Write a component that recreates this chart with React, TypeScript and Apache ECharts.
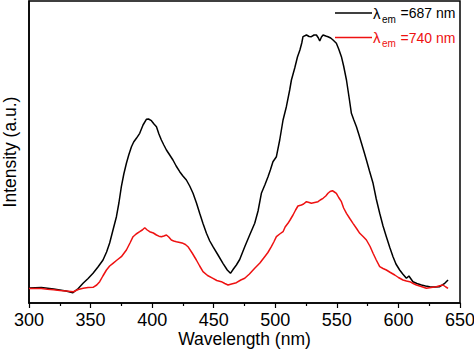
import React, { useEffect, useRef } from "react";
import * as echarts from "echarts";

// Emission-excitation spectra (wavelength in nm, intensity in a.u.)
const xTicks = [300, 350, 400, 450, 500, 550, 600, 650];

const em687: [number, number][] = [
  [300, 15], [305, 15.3], [310, 15.5], [315, 14.8], [320, 14], [325, 13], [330, 12], [335.7, 10.3],
  [340, 14.5], [343.9, 19.7], [348, 24.5], [352, 29.7], [356, 36], [360.1, 43], [363, 51], [365.5, 60],
  [368, 72], [371, 86.3], [373, 100], [375, 116.3], [377, 129], [379.1, 139.7], [381, 148], [383.2, 156.3],
  [385, 161], [387.2, 164.7], [389.9, 169.7], [392.6, 178], [395.3, 183.7], [397, 184], [399.4, 182.3],
  [401.5, 179], [403.5, 176.3], [405.5, 169], [407.5, 163], [409.5, 158], [411.6, 153], [414, 148.5],
  [416.9, 143], [419.5, 137], [422.4, 131.3], [425, 127], [427.8, 123], [430.5, 117], [433.2, 109.7],
  [436, 100], [438.6, 89.7], [441.3, 79.5], [444.1, 69.7], [446.8, 62], [449.4, 56.3], [453.5, 48],
  [457.5, 39.7], [461, 33], [463.6, 29.7], [466, 34], [468.4, 38], [471.1, 43.5], [475.2, 56.3],
  [479.2, 68], [483.3, 79.7], [486, 92], [488.7, 109.7], [491.5, 118], [494.1, 126.3], [496, 133],
  [498.1, 141.3], [500.9, 146.3], [503.6, 163], [506.3, 183], [509, 196.3], [511.7, 213], [513.1, 223],
  [515.8, 235], [518, 246], [520, 253], [521.5, 260], [522.5, 266.3], [525.3, 268], [527.5, 266.5],
  [529.3, 266.3], [531.5, 268], [533.4, 268], [535, 265], [536.1, 262], [537.5, 266], [538.8, 268],
  [541, 267], [542.8, 266.3], [545, 265], [546.9, 263], [549.6, 259.7], [551.5, 254], [553.7, 246.3],
  [555.5, 237], [557.8, 223], [560, 205], [561.8, 189.7], [563.8, 183], [565.9, 176.3], [568, 168],
  [570, 159.7], [572, 151.5], [574, 143], [576.5, 132], [579.4, 119.7], [582, 104], [584.8, 89.7],
  [587.5, 77], [590.2, 66.3], [593, 55.5], [595.6, 46.3], [598, 39], [601, 33], [603.5, 29],
  [606.5, 24.7], [608.5, 27], [611.8, 21.3], [615, 19.5], [618.7, 18], [622, 17], [625.4, 16.3],
  [629.5, 16], [633.5, 16.3], [636, 18.3], [637.6, 19.7], [640.3, 23],
];

const em740: [number, number][] = [
  [300, 14.5], [305, 14.5], [310, 14.5], [315, 13.7], [320, 13.3], [325, 12.5], [330, 12], [336, 11.3],
  [340, 13.5], [344, 14.7], [348, 15.5], [352, 15.7], [355, 18], [357.4, 21.3], [360, 27], [362.9, 33],
  [365.5, 37], [368.2, 39.7], [371.5, 43], [375, 46.3], [379.1, 53], [382, 60], [384.5, 66.3], [387, 69],
  [389.9, 71.3], [392, 73], [394, 75.3], [396, 73], [398, 71.3], [401, 70], [403.5, 68], [405.5, 66.8],
  [407.5, 66.3], [409.5, 67], [411.6, 68], [413.5, 66], [415.6, 63], [417.5, 62], [419.7, 61.3],
  [422.5, 60.5], [425.1, 59.7], [427, 58.5], [429.1, 56.3], [432.5, 50], [435.9, 43], [438.6, 37],
  [441.3, 31.3], [445, 27.5], [449.4, 24.7], [452.5, 22.5], [456.2, 21.3], [459, 19.5], [461.6, 18],
  [464.5, 19], [468.4, 20.3], [472, 23], [475.2, 24.7], [479, 29], [483.3, 34.7], [487.5, 40],
  [491.4, 46.3], [494, 50.5], [496.8, 56.3], [498.8, 61], [500.9, 66.3], [503.6, 69], [506.3, 71.3],
  [508, 76], [510.3, 79.7], [512, 83], [514.4, 88], [516.5, 93], [518.4, 97], [521.2, 98], [523, 99],
  [525.3, 101.3], [527.5, 100.5], [529.3, 99.7], [532, 100.5], [534.7, 101.3], [536.5, 103],
  [538.8, 104.7], [541, 107], [542.8, 109.7], [544.5, 111.5], [546.4, 112.3], [548, 111], [549.6, 109.7],
  [551.5, 105.5], [553.7, 101.3], [555.5, 95], [557.8, 89.7], [560.5, 84.5], [563.1, 79.7], [566, 74.5],
  [568.6, 69.7], [571.5, 66.3], [574, 63], [577, 56.5], [579.4, 49.7], [582, 43], [584.8, 36.3],
  [587.5, 34.5], [590.2, 33], [593.5, 30.5], [597, 28], [600, 25.5], [603.7, 23], [606.5, 22],
  [609.2, 21.3], [612, 19.5], [614.6, 18], [618.5, 16.5], [622.7, 14.7], [626.5, 15.5], [630.8, 16.3],
  [633.5, 17.3], [636.2, 18], [638.5, 16], [640.3, 14.7],
];

const seriesNames = ["λem=687 nm", "λem=740 nm"];
const seriesColors = ["#000000", "#ee1111"];

const FONT = "'Liberation Sans', Arial, sans-serif";

export default function App() {
  const ref = useRef<HTMLDivElement>(null);
  useEffect(() => {
    if (!ref.current) return;
    const chart = echarts.init(ref.current, null, { renderer: "svg" });
    const legendText = (y: number, value: string, color: string) => [
      { type: "line", shape: { x1: 335, y1: y, x2: 372, y2: y }, style: { stroke: color, lineWidth: 1.5 } },
      { type: "text", x: 373, y: y, style: { text: "λ", fill: color, font: `15px ${FONT}`, textVerticalAlign: "middle" } },
      { type: "text", x: 382, y: y + 6, style: { text: "em", fill: color, font: `10px ${FONT}`, textVerticalAlign: "middle" } },
      { type: "text", x: 400.5, y: y, style: { text: value, fill: color, font: `14px ${FONT}`, textVerticalAlign: "middle" } },
    ];
    chart.setOption({
      animation: false,
      textStyle: { fontFamily: FONT },
      grid: {
        left: 29, right: 14, top: 1, bottom: 48,
        outerBoundsMode: "none", containLabel: false,
        show: true, borderColor: "#000", borderWidth: 1.5,
      },
      xAxis: {
        type: "value", min: xTicks[0], max: xTicks[xTicks.length - 1], interval: 50,
        name: "Wavelength (nm)", nameLocation: "middle", nameGap: 26.5, nameMoveOverlap: false,
        nameTextStyle: { fontSize: 17.5, color: "#000", fontFamily: FONT },
        axisLine: { show: true, lineStyle: { color: "#000", width: 1.5 } },
        axisTick: { show: true, inside: false, length: 5, lineStyle: { color: "#000", width: 1.2 } },
        minorTick: { show: true, splitNumber: 2, length: 3, lineStyle: { color: "#000", width: 1.2 } },
        axisLabel: { fontSize: 18, color: "#000", margin: 8, fontFamily: FONT },
        splitLine: { show: false },
      },
      yAxis: {
        type: "value", min: 0, max: 302,
        name: "Intensity (a.u.)", nameLocation: "middle", nameGap: 10, nameMoveOverlap: false,
        nameTextStyle: { fontSize: 17.5, color: "#000", fontFamily: FONT },
        axisLine: { show: true, lineStyle: { color: "#000", width: 1.5 } },
        axisTick: { show: false },
        axisLabel: { show: false },
        splitLine: { show: false },
      },
      series: [
        {
          name: seriesNames[0], type: "line", data: em687, showSymbol: false, symbol: "none",
          lineStyle: { color: seriesColors[0], width: 1.5 }, itemStyle: { color: seriesColors[0] },
        },
        {
          name: seriesNames[1], type: "line", data: em740, showSymbol: false, symbol: "none",
          lineStyle: { color: seriesColors[1], width: 1.5 }, itemStyle: { color: seriesColors[1] },
        },
      ],
      graphic: [
        ...legendText(13, "=687 nm", seriesColors[0]),
        ...legendText(37.5, "=740 nm", seriesColors[1]),
      ],
    });
    return () => chart.dispose();
  }, []);
  return (
    <div
      ref={ref}
      style={{ position: "fixed", left: 0, top: 0, width: 474, height: 351, background: "#fff" }}
    />
  );
}
